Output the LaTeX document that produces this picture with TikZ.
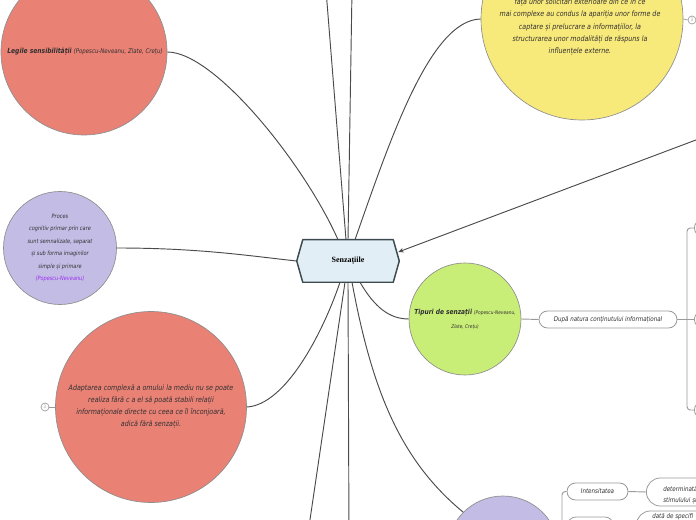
\documentclass[tikz,border=0pt]{standalone}
\usepackage{fontspec}
\setmainfont{Liberation Serif}
\newfontfamily\hand{DejaVu Sans}[FakeStretch=0.85]
\usetikzlibrary{arrows.meta,calc,shapes.misc}
\definecolor{salmon}{HTML}{E98175}
\definecolor{yel}{HTML}{F8E97B}
\definecolor{lav}{HTML}{C3BCE5}
\definecolor{lime}{HTML}{C9EE78}
\definecolor{hexfill}{HTML}{E2EEF5}
\definecolor{hexline}{HTML}{3C4A50}
\definecolor{circgray}{HTML}{8E8E8E}
\definecolor{linegray}{HTML}{4A4A4A}
\definecolor{brgray}{HTML}{9A9A9A}
\definecolor{txt}{HTML}{303030}
\definecolor{violetref}{HTML}{9B2FEF}
\begin{document}
\begin{tikzpicture}[x=0.75pt,y=-0.75pt,
  bubble/.style={circle,draw=circgray,line width=0.5pt,inner sep=0pt},
  conn/.style={draw=linegray,line width=0.7pt},
  bracket/.style={draw=brgray,line width=0.7pt,rounded corners=2.5pt},
  pill/.style={rounded rectangle,draw=brgray,line width=0.6pt,fill=white,inner sep=0pt,text=txt},
  tx/.style={align=center,text=txt,inner sep=0pt},
  mark3/.style={circle,draw=brgray,line width=0.5pt,fill=white,inner sep=0pt,minimum size=6pt,font=\hand\fontsize{3.5}{4}\selectfont,text=brgray},
  big/.style={font=\hand\itshape\fontsize{5.6}{9.2}\selectfont},
  small/.style={font=\hand\itshape\fontsize{4.4}{9.3}\selectfont},
  mid/.style={font=\hand\itshape\fontsize{4.9}{8}\selectfont}]
\useasboundingbox (0,0) rectangle (696,520);
\clip (0,0) rectangle (696,520);
\fill[white] (0,0) rectangle (696,520);

% central node
\node[minimum width=76.5pt,minimum height=31.5pt,inner sep=0pt,font=\bfseries\fontsize{6}{7}\selectfont,text=black] (hex) at (348,261) {Senzațiile};

% circles
\node[bubble,fill=salmon,minimum size=124.5pt] (legile) at (84,52) {};
\node[bubble,fill=yel,minimum size=151.5pt] (yc) at (582,19) {};
\node[bubble,fill=lav,minimum size=84.75pt] (pc) at (60,248) {};
\node[bubble,fill=salmon,minimum size=143.25pt] (rc) at (151,407) {};
\node[bubble,fill=lime,minimum size=84pt] (gc) at (465,319) {};
\node[bubble,fill=lav,minimum size=84pt] (pc2) at (503,552) {};

% off-image ends
\coordinate (top1) at (326,-10);
\coordinate (top2) at (352,-10);
\coordinate (offR) at (702,137.7);
\coordinate (bot1) at (307,540);
\coordinate (bot2) at (349,540);

% connectors
\draw[conn] ($(hex.north)+(-10,0)$) .. controls (305,165) and (215,52) .. (legile.east);
\draw[conn] ($(hex.north)+(-2,0)$) -- (top1);
\draw[conn] ($(hex.north)+(0,0)$) -- (top2);
\draw[conn] ($(hex.north)+(7,0)$) .. controls (390,140) and (430,20) .. (yc.west);
\draw[conn,-{Stealth[length=4pt,width=3.5pt]}] (offR) -- ($(hex.east)+(-1,-9)$);
\draw[conn] (pc.east) .. controls (200,248) and (250,256) .. (hex.west);
\draw[conn] (rc.east) .. controls (285,405) and (322,335) .. ($(hex.south)+(-8,0)$);
\draw[conn] ($(hex.south)+(-3,0)$) -- (bot1);
\draw[conn] ($(hex.south)+(0,0)$) -- (bot2);
\draw[conn] ($(hex.south)+(4,0)$) .. controls (372,390) and (400,460) .. (pc2.north west);
\draw[conn] ($(hex.south)+(12,0)$) .. controls (375,308) and (390,319) .. (gc.west);

% hexagon outline
\draw[hexline,fill=hexfill,line width=1.1pt,line join=round] (hex.west) -- ([xshift=4.5pt]hex.north west) -- ([xshift=-4.5pt]hex.north east) -- (hex.east) -- ([xshift=-4.5pt]hex.south east) -- ([xshift=4.5pt]hex.south west) -- cycle;
\node[font=\bfseries\fontsize{6}{7}\selectfont,text=black,inner sep=0pt] (hexlabel) at (hex.center) {Senzațiile};

% texts in circles
\node[tx,font=\hand\itshape\fontsize{5.3}{7}\selectfont] (legtxt) at (85,52) {{\bfseries Legile sensibilității} {\fontsize{4.8}{6}\selectfont(Popescu-Neveanu, Zlate, Crețu)}};
\node[tx,big] (ytxt) at (580,27) {față unor solicitări exterioare din ce în ce\\mai complexe au condus la apariția unor forme de\\captare și prelucrare a informațiilor, la\\structurarea unor modalități de răspuns la\\influențele externe.};
\node[tx,small] (ptxt) at (60,248) {Proces\\cognitiv primar prin care\\sunt semnalizate, separat\\și sub forma imaginilor\\simple și primare\\{\color{violetref}(Popescu-Neveanu)}};
\node[tx,big] (rtxt) at (151,406.5) {Adaptarea complexă a omului la mediu nu se poate\\realiza fără c a el să poată stabili relații\\informaționale directe cu ceea ce îl înconjoară,\\adică fără senzații.};
\node[tx,font=\hand\itshape\fontsize{5.2}{10.5}\selectfont] (gtxt) at (465,319) {{\bfseries Tipuri de senzații} {\fontsize{3.8}{5}\selectfont(Popescu-Neveanu,}\\{\fontsize{3.8}{5}\selectfont Zlate, Crețu)}};

% collapse markers
\node[mark3] (m1) at (692,20) {3};
\draw[brgray,line width=0.5pt] (yc.east) -- (m1.west);
\node[mark3] (m2) at (45,407) {3};
\draw[brgray,line width=0.5pt] (m2.east) -- (rc.west);

% right branch
\node[pill,mid,minimum width=103.5pt,minimum height=12.75pt] (nat) at (608,319.5) {După natura conținutului informațional};
\draw[draw=brgray,line width=0.7pt] (gc.east) -- (nat.west);
\node[pill,anchor=west,minimum width=60pt,minimum height=12.75pt] (rb1) at (694,228) {};
\node[pill,anchor=west,minimum width=60pt,minimum height=12.75pt] (rb2) at (694,319.5) {};
\node[pill,anchor=west,minimum width=60pt,minimum height=12.75pt] (rb3) at (694,410) {};
\draw[bracket] (rb1.west) -- (687,228) -- (687,410) -- (rb3.west);
\draw[draw=brgray,line width=0.7pt] (nat.east) -- (rb2.west);

% bottom-right branch
\node[pill,mid,minimum width=45.75pt,minimum height=12.75pt] (int) at (597.5,491.5) {Intensitatea};
\node[pill,anchor=west,minimum width=34.5pt,minimum height=12.75pt] (ib2) at (567,525.5) {};
\draw[bracket] (int.west) -- (562,491.5) -- (562,560) -- (pc2.east);
\draw[bracket] (ib2.west) -- (562,525.5);
\node[pill,anchor=west,minimum width=90pt,minimum height=21pt] (det) at (646,492) {};
\node[tx,mid,anchor=west,align=left] (dettxt) at (663,495) {determinată\\stimulului și};
\draw[draw=brgray,line width=0.7pt] (int.east) -- (det.west);
\node[pill,anchor=west,minimum width=90pt,minimum height=21pt] (spec) at (636,525) {};
\node[tx,mid,anchor=west] (spectxt) at (652,517) {dată de specifi};
\end{tikzpicture}
\end{document}
